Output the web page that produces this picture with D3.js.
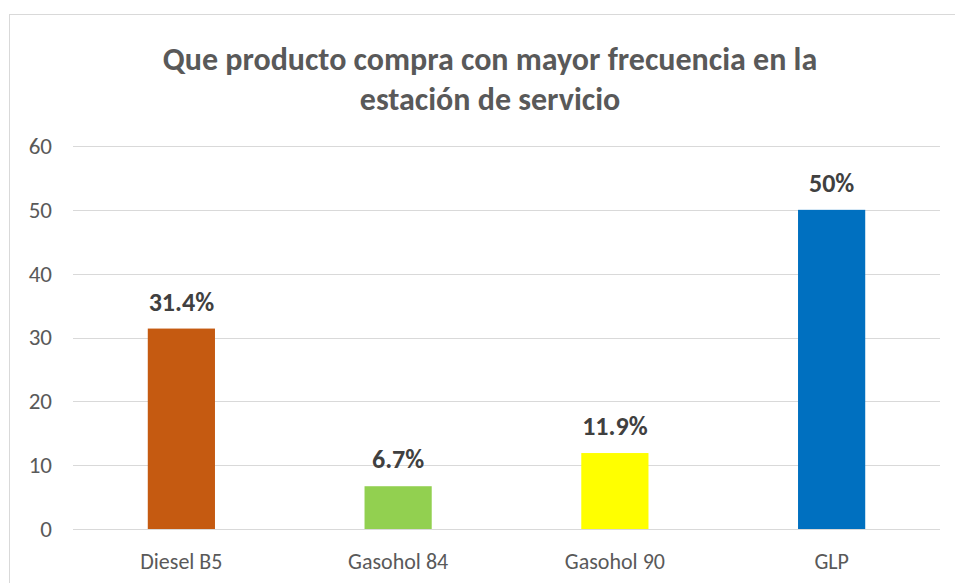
<!DOCTYPE html>
<html>
<head>
<meta charset="utf-8">
<script src="https://cdn.jsdelivr.net/npm/d3@7"></script>
<style>
  body { margin: 0; background: #fff; }
  svg text { font-family: Carlito, Calibri, Lato, sans-serif; }
</style>
</head>
<body>
<svg id="chart" width="955" height="583"></svg>
<script>
// **** Data
const categories = ["Diesel B5", "Gasohol 84", "Gasohol 90", "GLP"];
const values = [31.4, 6.7, 11.9, 50];
const valueLabels = ["31.4%", "6.7%", "11.9%", "50%"];
const barColors = ["#C55A11", "#92D050", "#FFFF00", "#0070C0"];
const yTicks = [0, 10, 20, 30, 40, 50, 60];
const titleLines = ["Que producto compra con mayor frecuencia en la", "estación de servicio"];

const svg = d3.select("#chart");

// **** Frame
svg.append("rect")
  .attr("x", 9.5).attr("y", 14.5)
  .attr("width", 960).attr("height", 600)
  .attr("fill", "#fff")
  .attr("stroke", "#d9d9d9");

// **** Scales
const x = d3.scaleBand()
  .domain(categories)
  .range([73, 940])
  .paddingInner(0.69)
  .paddingOuter(0.345);

const y = d3.scaleLinear()
  .domain([0, 60])
  .range([529, 146]);

// **** Gridlines
svg.append("g")
  .selectAll("line")
  .data(yTicks)
  .join("line")
  .attr("x1", 73).attr("x2", 940)
  .attr("y1", d => Math.round(y(d)) + 0.5)
  .attr("y2", d => Math.round(y(d)) + 0.5)
  .attr("stroke", "#d9d9d9")
  .attr("stroke-width", 1);

// **** Y axis labels
const yAxis = d3.axisLeft(y).tickValues(yTicks).tickSize(0).tickPadding(0);
svg.append("g")
  .attr("transform", "translate(52,0)")
  .call(yAxis)
  .call(g => g.select(".domain").remove())
  .call(g => g.selectAll("text")
    .attr("font-size", 23)
    .attr("fill", "#595959")
    .style("font-family", "Carlito, Calibri, Lato, sans-serif"));

// **** Bars
svg.append("g")
  .selectAll("rect")
  .data(values)
  .join("rect")
  .attr("x", (d, i) => x(categories[i]))
  .attr("y", d => y(d))
  .attr("width", x.bandwidth())
  .attr("height", d => y(0) - y(d))
  .attr("fill", (d, i) => barColors[i]);

// **** Zero line on top of bars
svg.append("line")
  .attr("x1", 73).attr("x2", 940)
  .attr("y1", Math.round(y(0)) + 0.5).attr("y2", Math.round(y(0)) + 0.5)
  .attr("stroke", "#d9d9d9");

// **** Value labels
svg.append("g")
  .selectAll("text")
  .data(values)
  .join("text")
  .attr("x", (d, i) => x(categories[i]) + x.bandwidth() / 2)
  .attr("y", d => y(d) - 18)
  .attr("text-anchor", "middle")
  .attr("font-size", 26)
  .attr("font-weight", "bold")
  .attr("fill", "#404040")
  .text((d, i) => valueLabels[i]);

// **** X axis labels
const xAxis = d3.axisBottom(x).tickSize(0).tickPadding(0);
svg.append("g")
  .attr("transform", "translate(0,553)")
  .call(xAxis)
  .call(g => g.select(".domain").remove())
  .call(g => g.selectAll("text")
    .attr("font-size", 22)
    .attr("fill", "#595959")
    .style("font-family", "Carlito, Calibri, Lato, sans-serif"));

// **** Title
svg.append("text")
  .attr("x", 490)
  .attr("text-anchor", "middle")
  .attr("font-size", 32)
  .attr("font-weight", "bold")
  .attr("fill", "#595959")
  .selectAll("tspan")
  .data(titleLines)
  .join("tspan")
  .attr("x", 490)
  .attr("y", (d, i) => 70 + i * 40)
  .text(d => d);
</script>
</body>
</html>
